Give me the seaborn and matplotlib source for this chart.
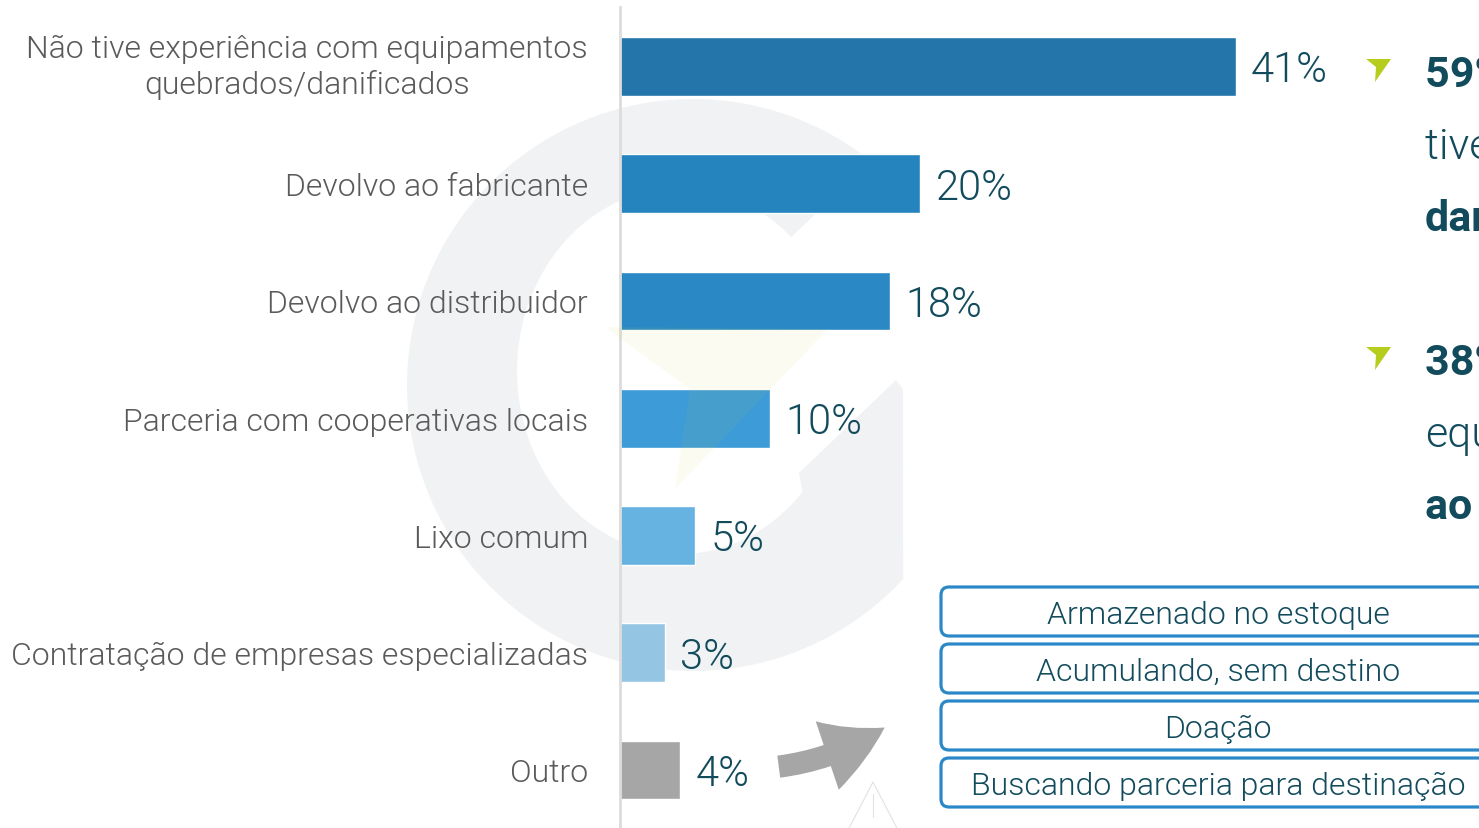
import numpy as np
import pandas as pd
import matplotlib
matplotlib.use("Agg")
import matplotlib.pyplot as plt
import seaborn as sns
from matplotlib.patches import Polygon, FancyBboxPatch, FancyArrowPatch

# --- data -------------------------------------------------------------------
categories = [
    "Não tive experiência com equipamentos\nquebrados/danificados",
    "Devolvo ao fabricante",
    "Devolvo ao distribuidor",
    "Parceria com cooperativas locais",
    "Lixo comum",
    "Contratação de empresas especializadas",
    "Outro",
]
values = [41, 20, 18, 10, 5, 3, 4]
bar_colors = ["#2475aa", "#2583be", "#2a89c5", "#3d9bd7", "#66b2e0",
              "#94c5e3", "#a6a6a6"]

destinations = [
    "Armazenado no estoque",
    "Acumulando, sem destino",
    "Doação",
    "Buscando parceria para destinação",
]

highlight_lines = [
    [("59% dos respondentes", "bold"), ("tiveram equipamentos", 300),
     ("danificados", "bold")],
    [("38% devolvem os", "bold"), ("equipamentos", 300),
     ("ao fabricante ou distribuidor", "bold")],
]

# --- style ------------------------------------------------------------------
sns.set_theme(style="white")
plt.rcParams["font.family"] = ["Roboto", "DejaVu Sans"]

TEAL = "#114b5c"
GREY_TXT = "#5a5a5a"
LIGHT = 300
W, H = 1479, 829

fig = plt.figure(figsize=(W / 100, H / 100), dpi=100)
fig.patch.set_facecolor("white")

# background layer (pixel coordinates) holding the faint "G" watermark
bg = fig.add_axes([0, 0, 1, 1], zorder=0)
bg.set_xlim(0, W)
bg.set_ylim(H, 0)
bg.axis("off")
ocx, ocy, R = 693, 386, 286
icx, icy, rx, ry = 680, 372, 163, 183
t_out = np.radians(np.linspace(55, 317.3, 140))
outer = np.c_[ocx + R * np.cos(t_out), ocy - R * np.sin(t_out)]
t_in = np.radians(np.linspace(-41.3, -313, 140))
inner = np.c_[icx + rx * np.cos(t_in), icy - ry * np.sin(t_in)]
stem = np.array([[903, 390], [896, 381], [799, 474]])
cap = np.array([[826, 205], [850, 190], [866, 160]])
g_pts = np.vstack([outer, stem, inner, cap])
bg.add_patch(Polygon(g_pts, closed=True, facecolor="#f1f2f4", edgecolor="none"))

# main bar axes
ax = fig.add_axes([620 / W, 0, 859 / W, 821 / H], zorder=1)
ax.patch.set_alpha(0)
df = pd.DataFrame({"cat": categories, "val": values})
sns.barplot(data=df, y="cat", x="val", hue="cat", palette=bar_colors,
            legend=False, width=0.5, saturation=1, ax=ax, orient="h")
ax.set_xlim(0, 859 / 15.02)
ax.set_ylim(6.495, -0.507)
ax.set_xlabel("")
ax.set_ylabel("")
ax.set_xticks([])
for s in ["top", "right", "bottom"]:
    ax.spines[s].set_visible(False)
ax.spines["left"].set_color("#dcdcdc")
ax.spines["left"].set_linewidth(2)
ax.tick_params(axis="y", length=0, pad=23)
for lbl in ax.get_yticklabels():
    lbl.set_fontsize(23)
    lbl.set_color(GREY_TXT)
    lbl.set_fontweight(LIGHT)
    lbl.set_multialignment("center")
    lbl.set_linespacing(1.22)
    if "\n" in lbl.get_text():
        lbl.set_va("center")

VAL_FS = 30
for i, v in enumerate(values):
    ax.annotate(f"{v}%", xy=(v, i), xytext=(11, -0.3555 * VAL_FS),
                textcoords="offset points", ha="left", va="baseline",
                fontsize=VAL_FS, color=TEAL, fontweight=LIGHT)

# --- overlay (pixel coordinates) -------------------------------------------
ov = fig.add_axes([0, 0, 1, 1], zorder=5)
ov.set_xlim(0, W)
ov.set_ylim(H, 0)
ov.axis("off")
ov.patch.set_alpha(0)

# faint pointer mark of the watermark, lying over the bars
ov.add_patch(Polygon([[605, 328], [828, 330], [675, 490], [690, 390]], closed=True,
                     facecolor="#c8d23c", alpha=0.07, edgecolor="none"))

# green pointer bullets and highlight text
for (y0, lines) in zip([60, 348], highlight_lines):
    ov.add_patch(Polygon([[1366, y0], [1391, y0], [1375, y0 + 23], [1376, y0 + 8]],
                         closed=True, facecolor="#b6cd1e", edgecolor="none"))
    base = y0 + 27
    for k, (txt, wt) in enumerate(lines):
        ov.text(1425, base + k * 72, txt, fontsize=31, color=TEAL,
                fontweight=wt, ha="left", va="baseline")

# grey arrow pointing to the list of destinations
ov.add_patch(FancyArrowPatch((776, 768), (887, 727),
                             arrowstyle="simple,head_length=46,head_width=52,tail_width=16",
                             connectionstyle="arc3,rad=0.12", mutation_scale=1,
                             facecolor="#a6a6a6", edgecolor="none"))

# faint warning sign
ov.add_patch(Polygon([[873, 783], [846, 835], [900, 835]], closed=True,
                     facecolor="none", edgecolor="#e2e2e2", linewidth=0.8))
ov.plot([873, 873], [795, 818], color="#e2e2e2", lw=0.8)

# destination boxes
for k, txt in enumerate(destinations):
    top = 588 + k * 57
    ov.add_patch(FancyBboxPatch((941, top), 600, 49,
                                boxstyle="round,pad=0,rounding_size=8",
                                facecolor="white", edgecolor="#2b88c8",
                                linewidth=2.3))
    ov.text(1218, top + 36, txt, fontsize=23, color=TEAL,
            fontweight=LIGHT, ha="center", va="baseline")

fig.savefig("out.png", dpi=100, facecolor="white")
